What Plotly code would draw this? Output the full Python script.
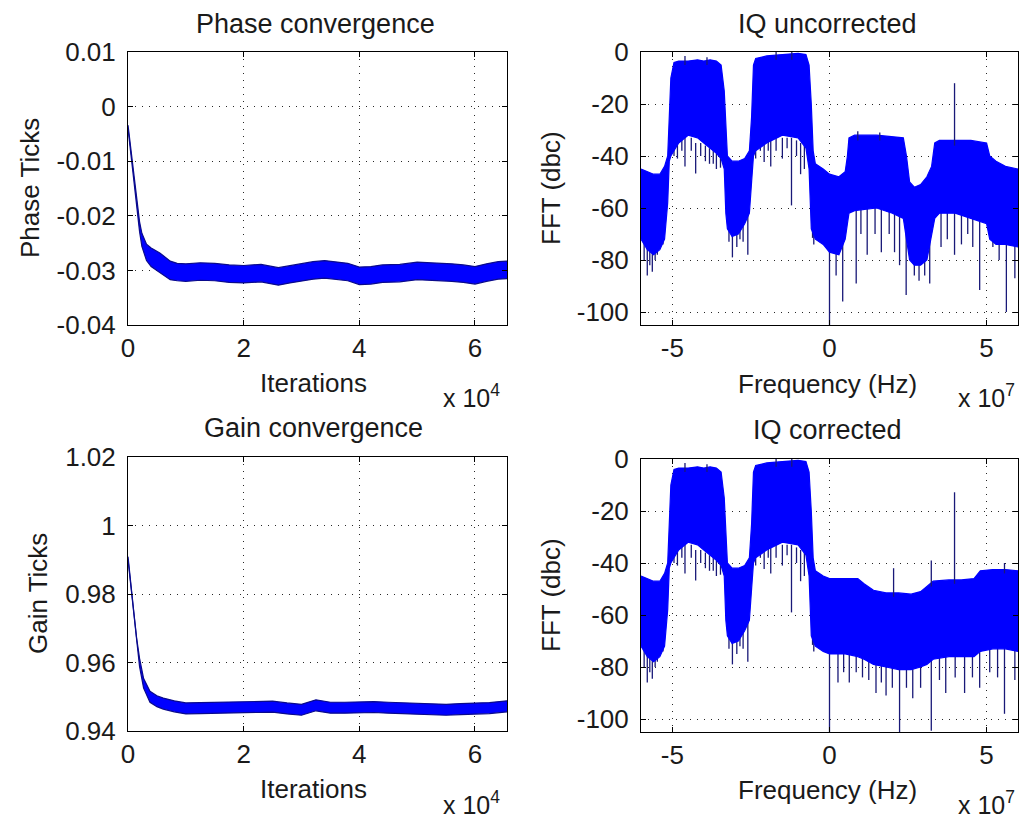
import plotly.graph_objects as go

# ---------------- DATA ----------------
# Phase convergence: band envelope of the noisy trace
phase_iter = [0, 300, 640, 1000, 1500, 2000, 2400, 3200, 4000, 5500, 7300, 8500, 10000,
              12500, 15000, 17500, 20000, 23000, 26000, 28000, 30000, 32000, 34000, 36000,
              38000, 40000, 42000, 44000, 47000, 50000, 53000, 56000, 58000, 60000, 62000,
              64000, 65536]
phase_upper = [-0.0034, -0.0061, -0.0093, -0.0125, -0.0175, -0.0211, -0.0232, -0.0252, -0.0259,
               -0.0268, -0.0283, -0.0287, -0.0288, -0.0286, -0.0287, -0.0290, -0.0291, -0.0289,
               -0.0295, -0.0291, -0.0287, -0.0284, -0.0282, -0.0284, -0.0287, -0.0294, -0.0293,
               -0.0290, -0.0289, -0.0285, -0.0286, -0.0288, -0.0290, -0.0293, -0.0288, -0.0284,
               -0.0283]
phase_lower = [-0.0040, -0.0069, -0.0103, -0.0135, -0.0189, -0.0229, -0.0256, -0.0282, -0.0293,
               -0.0304, -0.0317, -0.0319, -0.0320, -0.0318, -0.0319, -0.0322, -0.0323, -0.0321,
               -0.0327, -0.0323, -0.0319, -0.0316, -0.0314, -0.0316, -0.0319, -0.0326, -0.0325,
               -0.0322, -0.0321, -0.0317, -0.0318, -0.0320, -0.0322, -0.0325, -0.0320, -0.0316,
               -0.0315]

# Gain convergence
gain_iter = [0, 300, 640, 1000, 1500, 2000, 2700, 3800, 5000, 6100, 8000, 10000, 12500, 15000,
             17500, 20000, 22500, 25000, 27500, 30000, 32500, 35000, 37500, 40000, 42500, 45000,
             47500, 50000, 52500, 55000, 57500, 60000, 62500, 65536]
gain_upper = [0.9909, 0.9866, 0.9809, 0.9748, 0.9670, 0.9612, 0.9553, 0.9516, 0.9503, 0.9496,
              0.9488, 0.9482, 0.9483, 0.9484, 0.9484, 0.9484, 0.9486, 0.9487, 0.9482, 0.9478,
              0.9491, 0.9484, 0.9484, 0.9486, 0.9486, 0.9484, 0.9483, 0.9482, 0.9480, 0.9478,
              0.9480, 0.9482, 0.9483, 0.9488]
gain_lower = [0.9901, 0.9854, 0.9795, 0.9732, 0.9650, 0.9588, 0.9525, 0.9484, 0.9471, 0.9464,
              0.9456, 0.9450, 0.9451, 0.9452, 0.9452, 0.9452, 0.9454, 0.9455, 0.9450, 0.9446,
              0.9459, 0.9452, 0.9452, 0.9454, 0.9454, 0.9452, 0.9451, 0.9450, 0.9448, 0.9446,
              0.9448, 0.9450, 0.9451, 0.9456]

# FFT spectra (frequency in units of 1e7 Hz), band envelopes in dBc
# common part (two signal blocks, f < -0.45e7)
sig_f = [-6.0, -5.8, -5.6, -5.4, -5.25, -5.15, -5.1, -5.05, -4.95, -4.8, -4.5, -4.2, -4.0,
         -3.8, -3.6, -3.45, -3.35, -3.3, -3.25, -3.1, -2.9, -2.7, -2.55, -2.48, -2.42, -2.35,
         -2.0, -1.5, -1.0, -0.75, -0.65, -0.58, -0.52, -0.45]
sig_upper = [-45, -46, -47, -47, -44, -40, -25, -10, -4, -3.5, -3.5, -3, -3.5,
             -3, -3.5, -5, -15, -30, -40, -42, -42, -41, -38, -25, -5, -2.5,
             -1.5, -1, -0.5, -1, -5, -20, -38, -43]
sig_lower = [-72, -76, -78, -76, -72, -58, -42, -40, -38, -35, -32, -33, -35,
             -37, -39, -41, -45, -62, -68, -71, -70, -66, -62, -50, -40, -38,
             -35, -32, -33, -37, -45, -68, -70, -72]

# uncorrected: image blocks on the positive side
unc_f = [-0.2, 0.0, 0.3, 0.5, 0.57, 0.62, 0.8, 1.5, 2.0, 2.35, 2.45, 2.55, 2.7, 2.9, 3.1,
         3.25, 3.35, 3.5, 4.0, 4.5, 5.0, 5.1, 5.3, 5.6, 6.0]
unc_upper = [-45, -47, -48, -46, -40, -33, -32, -32, -32.5, -33, -40, -50, -52, -51, -48,
             -44, -35, -34, -34, -34, -35, -40, -42, -44, -45]
unc_lower = [-74, -77, -78, -72, -66, -62, -61, -60, -62, -64, -72, -80, -82, -82, -80,
             -70, -64, -62, -62, -64, -66, -72, -74, -74, -75]

# corrected: image blocks suppressed
cor_f = [-0.2, 0.0, 0.5, 0.9, 1.1, 1.4, 1.8, 2.2, 2.6, 2.9, 3.1, 3.3, 3.8, 4.2, 4.6, 4.8,
         5.2, 5.6, 6.0]
cor_upper = [-45, -46, -46, -46, -48, -50.5, -51.5, -51.5, -52, -51, -49, -47, -46.5, -46.5,
             -46, -43, -42.5, -42.5, -43]
cor_lower = [-74, -75, -75, -76, -77, -79, -80, -81, -81, -80, -79, -77, -76, -76, -76, -74,
             -73, -73, -74]

# isolated spikes below the band: frequency, low end, high end (dBc)
sig_spk_f = [-5.9, -5.8, -5.72, -5.64, -5.55, -5.48, -5.3, -4.95, -4.84, -4.7, -4.6, -4.4,
             -4.26, -4.1, -3.95, -3.82, -3.7, -3.6, -3.47, -3.2, -3.09, -2.95, -2.85, -2.75,
             -2.6, -2.35, -2.2, -2.08, -1.95, -1.87, -1.7, -1.5, -1.35, -1.21, -1.05, -0.92,
             -0.8, -0.54, -0.5]
sig_spk_lo = [-80, -86, -82, -84.5, -80, -78, -74, -40, -41, -38, -44, -38,
              -46.7, -40, -42, -43, -43, -45, -44.5, -73, -79, -75, -72, -73,
              -78, -41, -38, -42.3, -38, -44, -38, -41, -37, -59, -40, -47,
              -45, -71.5, -74]
sig_spk_hi = [-60, -60, -60, -60, -60, -60, -60, -35, -35, -33, -33, -33,
              -35, -35, -36, -37, -37, -39, -40, -65, -65, -65, -65, -65,
              -60, -36, -34, -35, -33, -34, -33, -33, -33, -33, -34, -35,
              -36, -60, -60]

unc_spk_f = [0.0, 0.21, 0.42, 0.85, 1.0, 1.2, 1.45, 1.65, 1.9, 2.07, 2.23, 2.44, 2.7, 2.85,
             3.03, 3.19, 3.55, 3.75, 3.98, 4.2, 4.4, 4.56, 4.78, 5.2, 5.4, 5.63, 5.9]
unc_spk_lo = [-106, -86, -96, -89, -70, -78, -70, -77, -70, -77, -82, -93.5, -86, -88,
              -86, -89, -75, -72, -78, -74, -70, -75, -91.5, -75, -80, -100, -87]
unc_spk_hi = [-60, -70, -70, -60, -60, -60, -60, -60, -60, -60, -60, -70, -70, -70,
              -70, -70, -60, -60, -60, -60, -60, -60, -60, -65, -65, -70, -70]

cor_spk_f = [0.0, 0.27, 0.45, 0.63, 0.85, 1.05, 1.25, 1.48, 1.65, 1.8, 2.0, 2.23, 2.45,
             2.65, 2.9, 3.24, 3.5, 3.7, 4.0, 4.3, 4.55, 4.78, 5.1, 5.35, 5.57, 5.9]
cor_spk_lo = [-106, -86, -82, -86, -82, -84, -85, -90, -86, -91, -88, -106, -88,
              -92, -88, -104.5, -85, -90, -84, -90, -84, -88, -82, -84, -98, -85]
cor_spk_hi = [-70] * len(cor_spk_f)

# isolated spikes above the band
sig_up_f = [-4.6, -3.9, -1.7, -1.2]
sig_up_lo = [-5, -5, -3, -3]
sig_up_hi = [-1.5, -2, 0, 0]
unc_up_f = [0.9, 1.6, 3.98]
unc_up_lo = [-34, -34, -36]
unc_up_hi = [-30.5, -31, -12]
cor_up_f = [2.04, 3.24, 3.98, 5.57]
cor_up_lo = [-53, -49, -48, -44]
cor_up_hi = [-42, -39, -12.8, -40]

# axis ticks
iter_tickvals = [0, 20000, 40000, 60000]
iter_ticktext = ["0", "2", "4", "6"]
phase_tickvals = [0.01, 0, -0.01, -0.02, -0.03, -0.04]
phase_ticktext = ["0.01", "0", "-0.01", "-0.02", "-0.03", "-0.04"]
gain_tickvals = [1.02, 1.0, 0.98, 0.96, 0.94]
gain_ticktext = ["1.02", "1", "0.98", "0.96", "0.94"]
freq_tickvals = [-5e7, 0, 5e7]
freq_ticktext = ["-5", "0", "5"]
db_tickvals = [0, -20, -40, -60, -80, -100]
db_ticktext = ["0", "-20", "-40", "-60", "-80", "-100"]

# ---------------- FIGURE ----------------
W, H = 1020, 819
BLUE = "rgb(0,0,255)"
EDGE = "rgb(10,10,140)"
SPIKE = "rgb(25,25,120)"
FONT = "Liberation Sans, Arial, Helvetica, sans-serif"
FS = 26

fig = go.Figure()


def band(xs, lo, hi, xa, ya, edge):
    fig.add_trace(go.Scatter(x=xs, y=lo, mode="lines", line=dict(color=edge, width=1.2),
                             xaxis=xa, yaxis=ya, showlegend=False, hoverinfo="skip"))
    fig.add_trace(go.Scatter(x=xs, y=hi, mode="lines", line=dict(color=edge, width=1.2),
                             fill="tonexty", fillcolor=BLUE,
                             xaxis=xa, yaxis=ya, showlegend=False, hoverinfo="skip"))


def spikes(fs, lo, hi, xa, ya):
    xs, ys = [], []
    for f, a, b in zip(fs, lo, hi):
        xs += [f * 1e7, f * 1e7, None]
        ys += [a, b, None]
    fig.add_trace(go.Scatter(x=xs, y=ys, mode="lines", line=dict(color=SPIKE, width=1.3),
                             xaxis=xa, yaxis=ya, showlegend=False, hoverinfo="skip",
                             connectgaps=False))


band(phase_iter, phase_lower, phase_upper, "x", "y", EDGE)
band(gain_iter, gain_lower, gain_upper, "x3", "y3", EDGE)

unc_all_f = [f * 1e7 for f in sig_f + unc_f]
cor_all_f = [f * 1e7 for f in sig_f + cor_f]
spikes(sig_spk_f + unc_spk_f, sig_spk_lo + unc_spk_lo, sig_spk_hi + unc_spk_hi, "x2", "y2")
band(unc_all_f, sig_lower + unc_lower, sig_upper + unc_upper, "x2", "y2", BLUE)
spikes(sig_up_f + unc_up_f, sig_up_lo + unc_up_lo, sig_up_hi + unc_up_hi, "x2", "y2")
spikes(sig_spk_f + cor_spk_f, sig_spk_lo + cor_spk_lo, sig_spk_hi + cor_spk_hi, "x4", "y4")
band(cor_all_f, sig_lower + cor_lower, sig_upper + cor_upper, "x4", "y4", BLUE)
spikes(sig_up_f + cor_up_f, sig_up_lo + cor_up_lo, sig_up_hi + cor_up_hi, "x4", "y4")


def px(v):
    return v / W


def py(v):
    return 1 - v / H


common_axis = dict(showline=True, linecolor="black", linewidth=1, mirror="ticks",
                   ticks="inside", ticklen=5, tickcolor="black", showgrid=True,
                   gridcolor="rgb(40,40,40)", gridwidth=1, griddash="1px,6px",
                   zeroline=False, automargin=False,
                   tickfont=dict(family=FONT, size=FS, color="#1a1a1a"),
                   fixedrange=True)
xcommon = dict(common_axis, ticklabelstandoff=0)
ycommon = dict(common_axis, ticklabelstandoff=6)

LX = [px(128), px(507)]
RX = [px(641), px(1018)]
TY = [py(325), py(52)]
BLY = [py(731), py(457)]
BRY = [py(732), py(459)]

fig.update_layout(
    width=W, height=H, autosize=False, margin=dict(l=0, r=0, t=0, b=0, pad=0),
    paper_bgcolor="white", plot_bgcolor="white",
    font=dict(family=FONT, size=FS, color="#1a1a1a"),
    xaxis=dict(xcommon, domain=LX, range=[0, 65536], tickvals=iter_tickvals,
               ticktext=iter_ticktext, anchor="y"),
    yaxis=dict(ycommon, domain=TY, range=[-0.04, 0.01], tickvals=phase_tickvals,
               ticktext=phase_ticktext, anchor="x"),
    xaxis2=dict(xcommon, domain=RX, range=[-6e7, 6e7], tickvals=freq_tickvals,
                ticktext=freq_ticktext, anchor="y2"),
    yaxis2=dict(ycommon, domain=TY, range=[-105, 0], tickvals=db_tickvals,
                ticktext=db_ticktext, anchor="x2"),
    xaxis3=dict(xcommon, domain=LX, range=[0, 65536], tickvals=iter_tickvals,
                ticktext=iter_ticktext, anchor="y3"),
    yaxis3=dict(ycommon, domain=BLY, range=[0.94, 1.02], tickvals=gain_tickvals,
                ticktext=gain_ticktext, anchor="x3"),
    xaxis4=dict(xcommon, domain=RX, range=[-6e7, 6e7], tickvals=freq_tickvals,
                ticktext=freq_ticktext, anchor="y4"),
    yaxis4=dict(ycommon, domain=BRY, range=[-105, 0], tickvals=db_tickvals,
                ticktext=db_ticktext, anchor="x4"),
)


def label(text, x, y, angle=0, xanchor="center", size=26):
    fig.add_annotation(text=text, x=px(x), y=py(y), xref="paper", yref="paper",
                       showarrow=False, textangle=angle, xanchor=xanchor, yanchor="middle",
                       font=dict(family=FONT, size=size, color="#1a1a1a"))


# titles
label("Phase convergence", 315, 24, size=27)
label("IQ uncorrected", 827, 24, size=27)
label("Gain convergence", 313, 428, size=27)
label("IQ corrected", 827, 430, size=27)
# axis titles
label("Phase Ticks", 30, 188, angle=-90)
label("FFT (dbc)", 551, 188, angle=-90)
label("Gain Ticks", 38, 594, angle=-90)
label("FFT (dbc)", 551, 595, angle=-90)
label("Iterations", 313, 383)
label("Frequency (Hz)", 827, 384)
label("Iterations", 313, 789)
label("Frequency (Hz)", 827, 790)
# exponent labels
label("x 10<sup>4</sup>", 441, 396, xanchor="left", size=25)
label("x 10<sup>7</sup>", 956, 396, xanchor="left", size=25)
label("x 10<sup>4</sup>", 441, 803, xanchor="left", size=25)
label("x 10<sup>7</sup>", 956, 803, xanchor="left", size=25)

fig.write_html("out.html",
               config={"displayModeBar": False},
               post_script="document.body.style.margin='0px';"
                           "document.body.style.overflow='hidden';")
